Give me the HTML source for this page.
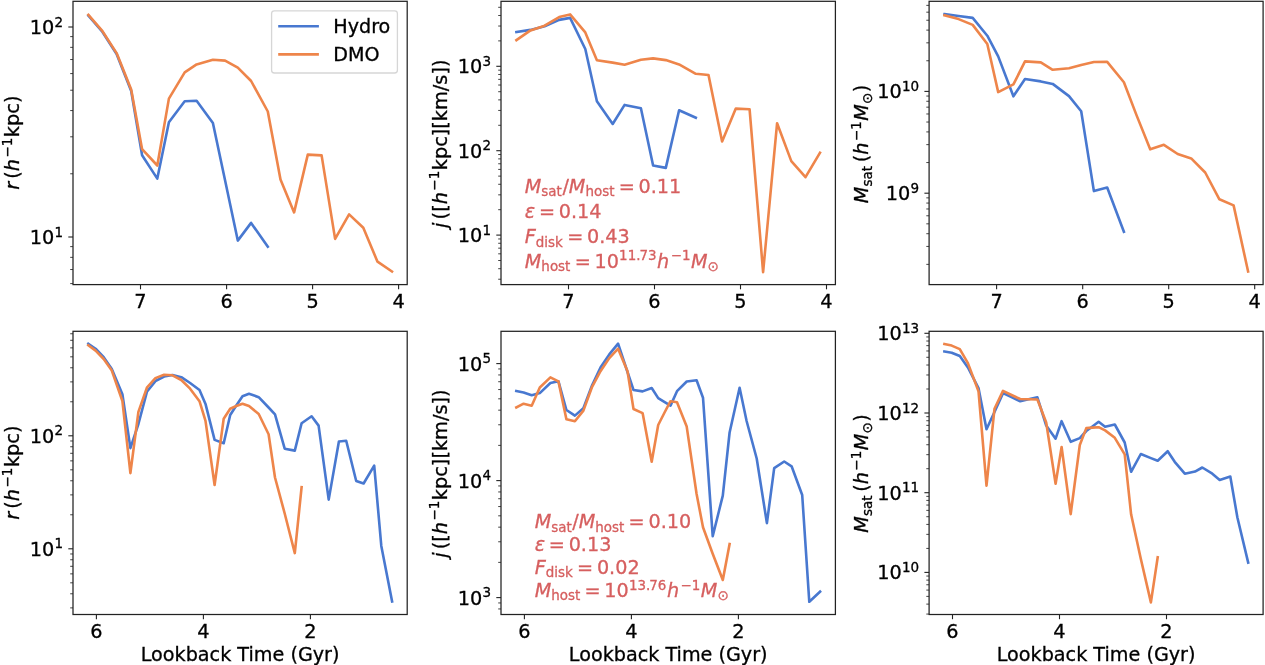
<!DOCTYPE html>
<html><head><meta charset="utf-8"><title>Satellite orbits: Hydro vs DMO</title>
<style>
html,body{margin:0;padding:0;background:#fff;}
svg{display:block}
text{font-family:"DejaVu Sans","Liberation Sans",sans-serif;stroke:#000;stroke-width:0.3px;}
text.r{stroke:#d65f5f;}
</style></head><body>
<svg width="1265" height="665" viewBox="0 0 1265 665">
<rect width="1265" height="665" fill="#fff"/>
<g>
<polyline points="88.4,15.6 102.5,32.0 116.6,54.0 131.2,91.0 142.1,155.3 157.3,178.6 168.9,122.2 184.7,101.2 196.6,100.7 212.9,123.1 225.1,180.5 237.8,240.6 251.1,222.9 267.8,246.8" fill="none" stroke="#4878d0" stroke-width="2.6" stroke-linejoin="round" stroke-linecap="square"/>
<polyline points="88.4,14.9 102.5,31.2 116.6,53.1 131.2,89.5 142.1,149.2 157.3,165.5 168.9,98.6 184.7,72.3 196.6,64.4 212.9,59.8 225.1,60.6 237.8,67.7 251.1,81.0 267.8,111.5 280.5,179.5 294.1,212.4 307.8,154.6 321.6,155.4 335.1,238.9 349.1,214.4 363.3,227.8 377.5,261.7 392.0,271.5" fill="none" stroke="#ee854a" stroke-width="2.6" stroke-linejoin="round" stroke-linecap="square"/>
<line x1="68.3" x2="73.0" y1="27.0" y2="27.0" stroke="#222" stroke-width="1.1"/>
<line x1="68.3" x2="73.0" y1="237.0" y2="237.0" stroke="#222" stroke-width="1.1"/>
<line x1="70.2" x2="73.0" y1="173.78" y2="173.78" stroke="#222" stroke-width="0.85"/>
<line x1="70.2" x2="73.0" y1="136.80" y2="136.80" stroke="#222" stroke-width="0.85"/>
<line x1="70.2" x2="73.0" y1="110.57" y2="110.57" stroke="#222" stroke-width="0.85"/>
<line x1="70.2" x2="73.0" y1="90.22" y2="90.22" stroke="#222" stroke-width="0.85"/>
<line x1="70.2" x2="73.0" y1="73.59" y2="73.59" stroke="#222" stroke-width="0.85"/>
<line x1="70.2" x2="73.0" y1="59.53" y2="59.53" stroke="#222" stroke-width="0.85"/>
<line x1="70.2" x2="73.0" y1="47.35" y2="47.35" stroke="#222" stroke-width="0.85"/>
<line x1="70.2" x2="73.0" y1="36.61" y2="36.61" stroke="#222" stroke-width="0.85"/>
<line x1="70.2" x2="73.0" y1="283.59" y2="283.59" stroke="#222" stroke-width="0.85"/>
<line x1="70.2" x2="73.0" y1="269.53" y2="269.53" stroke="#222" stroke-width="0.85"/>
<line x1="70.2" x2="73.0" y1="257.35" y2="257.35" stroke="#222" stroke-width="0.85"/>
<line x1="70.2" x2="73.0" y1="246.61" y2="246.61" stroke="#222" stroke-width="0.85"/>
<line x1="140.5" x2="140.5" y1="284.6" y2="289.3" stroke="#222" stroke-width="1.1"/>
<text x="140.5" y="307.9" text-anchor="middle" font-size="19.3">7</text>
<line x1="226.6" x2="226.6" y1="284.6" y2="289.3" stroke="#222" stroke-width="1.1"/>
<text x="226.6" y="307.9" text-anchor="middle" font-size="19.3">6</text>
<line x1="312.6" x2="312.6" y1="284.6" y2="289.3" stroke="#222" stroke-width="1.1"/>
<text x="312.6" y="307.9" text-anchor="middle" font-size="19.3">5</text>
<line x1="398.6" x2="398.6" y1="284.6" y2="289.3" stroke="#222" stroke-width="1.1"/>
<text x="398.6" y="307.9" text-anchor="middle" font-size="19.3">4</text>
<rect x="73.0" y="1.3" width="334.2" height="283.3" fill="none" stroke="#222" stroke-width="1.25"/>
</g>
<g>
<polyline points="516.4,32.0 530.5,29.9 544.6,26.2 559.2,19.9 570.1,17.9 585.3,49.0 596.9,101.3 612.7,124.0 624.6,104.9 640.9,108.2 653.1,165.5 665.8,167.9 679.1,110.3 695.8,117.7" fill="none" stroke="#4878d0" stroke-width="2.6" stroke-linejoin="round" stroke-linecap="square"/>
<polyline points="516.4,40.1 530.5,30.4 544.6,25.7 559.2,17.1 570.1,14.4 585.3,32.4 596.9,60.2 612.7,62.6 624.6,64.7 640.9,59.8 653.1,58.4 665.8,60.1 679.1,64.4 695.8,73.8 708.5,75.0 722.1,141.4 735.8,108.6 749.6,109.3 763.1,272.1 777.1,123.2 791.3,161.1 805.5,177.2 820.0,152.7" fill="none" stroke="#ee854a" stroke-width="2.6" stroke-linejoin="round" stroke-linecap="square"/>
<line x1="496.3" x2="501.0" y1="66.3" y2="66.3" stroke="#222" stroke-width="1.1"/>
<line x1="496.3" x2="501.0" y1="150.7" y2="150.7" stroke="#222" stroke-width="1.1"/>
<line x1="496.3" x2="501.0" y1="235.1" y2="235.1" stroke="#222" stroke-width="1.1"/>
<line x1="498.2" x2="501.0" y1="40.89" y2="40.89" stroke="#222" stroke-width="0.85"/>
<line x1="498.2" x2="501.0" y1="26.03" y2="26.03" stroke="#222" stroke-width="0.85"/>
<line x1="498.2" x2="501.0" y1="15.49" y2="15.49" stroke="#222" stroke-width="0.85"/>
<line x1="498.2" x2="501.0" y1="7.31" y2="7.31" stroke="#222" stroke-width="0.85"/>
<line x1="498.2" x2="501.0" y1="125.29" y2="125.29" stroke="#222" stroke-width="0.85"/>
<line x1="498.2" x2="501.0" y1="110.43" y2="110.43" stroke="#222" stroke-width="0.85"/>
<line x1="498.2" x2="501.0" y1="99.89" y2="99.89" stroke="#222" stroke-width="0.85"/>
<line x1="498.2" x2="501.0" y1="91.71" y2="91.71" stroke="#222" stroke-width="0.85"/>
<line x1="498.2" x2="501.0" y1="85.02" y2="85.02" stroke="#222" stroke-width="0.85"/>
<line x1="498.2" x2="501.0" y1="79.37" y2="79.37" stroke="#222" stroke-width="0.85"/>
<line x1="498.2" x2="501.0" y1="74.48" y2="74.48" stroke="#222" stroke-width="0.85"/>
<line x1="498.2" x2="501.0" y1="70.16" y2="70.16" stroke="#222" stroke-width="0.85"/>
<line x1="498.2" x2="501.0" y1="209.69" y2="209.69" stroke="#222" stroke-width="0.85"/>
<line x1="498.2" x2="501.0" y1="194.83" y2="194.83" stroke="#222" stroke-width="0.85"/>
<line x1="498.2" x2="501.0" y1="184.29" y2="184.29" stroke="#222" stroke-width="0.85"/>
<line x1="498.2" x2="501.0" y1="176.11" y2="176.11" stroke="#222" stroke-width="0.85"/>
<line x1="498.2" x2="501.0" y1="169.42" y2="169.42" stroke="#222" stroke-width="0.85"/>
<line x1="498.2" x2="501.0" y1="163.77" y2="163.77" stroke="#222" stroke-width="0.85"/>
<line x1="498.2" x2="501.0" y1="158.88" y2="158.88" stroke="#222" stroke-width="0.85"/>
<line x1="498.2" x2="501.0" y1="154.56" y2="154.56" stroke="#222" stroke-width="0.85"/>
<line x1="498.2" x2="501.0" y1="279.23" y2="279.23" stroke="#222" stroke-width="0.85"/>
<line x1="498.2" x2="501.0" y1="268.69" y2="268.69" stroke="#222" stroke-width="0.85"/>
<line x1="498.2" x2="501.0" y1="260.51" y2="260.51" stroke="#222" stroke-width="0.85"/>
<line x1="498.2" x2="501.0" y1="253.82" y2="253.82" stroke="#222" stroke-width="0.85"/>
<line x1="498.2" x2="501.0" y1="248.17" y2="248.17" stroke="#222" stroke-width="0.85"/>
<line x1="498.2" x2="501.0" y1="243.28" y2="243.28" stroke="#222" stroke-width="0.85"/>
<line x1="498.2" x2="501.0" y1="238.96" y2="238.96" stroke="#222" stroke-width="0.85"/>
<line x1="568.5" x2="568.5" y1="284.6" y2="289.3" stroke="#222" stroke-width="1.1"/>
<text x="568.5" y="307.9" text-anchor="middle" font-size="19.3">7</text>
<line x1="654.5" x2="654.5" y1="284.6" y2="289.3" stroke="#222" stroke-width="1.1"/>
<text x="654.5" y="307.9" text-anchor="middle" font-size="19.3">6</text>
<line x1="740.5" x2="740.5" y1="284.6" y2="289.3" stroke="#222" stroke-width="1.1"/>
<text x="740.5" y="307.9" text-anchor="middle" font-size="19.3">5</text>
<line x1="826.5" x2="826.5" y1="284.6" y2="289.3" stroke="#222" stroke-width="1.1"/>
<text x="826.5" y="307.9" text-anchor="middle" font-size="19.3">4</text>
<rect x="501.0" y="1.3" width="334.4" height="283.3" fill="none" stroke="#222" stroke-width="1.25"/>
</g>
<g>
<polyline points="944.5,14.1 958.6,16.0 972.7,17.9 987.3,35.7 998.2,56.4 1013.4,96.3 1025.0,79.0 1040.8,81.4 1052.7,83.9 1069.0,96.1 1081.2,111.3 1093.9,191.1 1107.2,187.5 1123.9,231.8" fill="none" stroke="#4878d0" stroke-width="2.6" stroke-linejoin="round" stroke-linecap="square"/>
<polyline points="944.5,15.3 958.6,19.1 972.7,24.9 987.3,44.0 998.2,92.1 1013.4,84.4 1025.0,61.4 1040.8,62.4 1052.7,69.8 1069.0,68.2 1081.2,64.9 1093.9,62.0 1107.2,61.9 1123.9,82.3 1136.6,115.4 1150.2,149.3 1163.9,144.8 1177.7,154.0 1191.2,158.4 1205.2,172.5 1219.4,199.3 1233.6,205.4 1248.1,271.5" fill="none" stroke="#ee854a" stroke-width="2.6" stroke-linejoin="round" stroke-linecap="square"/>
<line x1="924.4" x2="929.1" y1="91.4" y2="91.4" stroke="#222" stroke-width="1.1"/>
<line x1="924.4" x2="929.1" y1="193.2" y2="193.2" stroke="#222" stroke-width="1.1"/>
<line x1="926.3" x2="929.1" y1="60.76" y2="60.76" stroke="#222" stroke-width="0.85"/>
<line x1="926.3" x2="929.1" y1="42.83" y2="42.83" stroke="#222" stroke-width="0.85"/>
<line x1="926.3" x2="929.1" y1="30.11" y2="30.11" stroke="#222" stroke-width="0.85"/>
<line x1="926.3" x2="929.1" y1="20.24" y2="20.24" stroke="#222" stroke-width="0.85"/>
<line x1="926.3" x2="929.1" y1="12.18" y2="12.18" stroke="#222" stroke-width="0.85"/>
<line x1="926.3" x2="929.1" y1="5.37" y2="5.37" stroke="#222" stroke-width="0.85"/>
<line x1="926.3" x2="929.1" y1="162.56" y2="162.56" stroke="#222" stroke-width="0.85"/>
<line x1="926.3" x2="929.1" y1="144.63" y2="144.63" stroke="#222" stroke-width="0.85"/>
<line x1="926.3" x2="929.1" y1="131.91" y2="131.91" stroke="#222" stroke-width="0.85"/>
<line x1="926.3" x2="929.1" y1="122.04" y2="122.04" stroke="#222" stroke-width="0.85"/>
<line x1="926.3" x2="929.1" y1="113.98" y2="113.98" stroke="#222" stroke-width="0.85"/>
<line x1="926.3" x2="929.1" y1="107.17" y2="107.17" stroke="#222" stroke-width="0.85"/>
<line x1="926.3" x2="929.1" y1="101.27" y2="101.27" stroke="#222" stroke-width="0.85"/>
<line x1="926.3" x2="929.1" y1="96.06" y2="96.06" stroke="#222" stroke-width="0.85"/>
<line x1="926.3" x2="929.1" y1="264.36" y2="264.36" stroke="#222" stroke-width="0.85"/>
<line x1="926.3" x2="929.1" y1="246.43" y2="246.43" stroke="#222" stroke-width="0.85"/>
<line x1="926.3" x2="929.1" y1="233.71" y2="233.71" stroke="#222" stroke-width="0.85"/>
<line x1="926.3" x2="929.1" y1="223.84" y2="223.84" stroke="#222" stroke-width="0.85"/>
<line x1="926.3" x2="929.1" y1="215.78" y2="215.78" stroke="#222" stroke-width="0.85"/>
<line x1="926.3" x2="929.1" y1="208.97" y2="208.97" stroke="#222" stroke-width="0.85"/>
<line x1="926.3" x2="929.1" y1="203.07" y2="203.07" stroke="#222" stroke-width="0.85"/>
<line x1="926.3" x2="929.1" y1="197.86" y2="197.86" stroke="#222" stroke-width="0.85"/>
<line x1="996.6" x2="996.6" y1="284.6" y2="289.3" stroke="#222" stroke-width="1.1"/>
<text x="996.6" y="307.9" text-anchor="middle" font-size="19.3">7</text>
<line x1="1082.7" x2="1082.7" y1="284.6" y2="289.3" stroke="#222" stroke-width="1.1"/>
<text x="1082.7" y="307.9" text-anchor="middle" font-size="19.3">6</text>
<line x1="1168.7" x2="1168.7" y1="284.6" y2="289.3" stroke="#222" stroke-width="1.1"/>
<text x="1168.7" y="307.9" text-anchor="middle" font-size="19.3">5</text>
<line x1="1254.7" x2="1254.7" y1="284.6" y2="289.3" stroke="#222" stroke-width="1.1"/>
<text x="1254.7" y="307.9" text-anchor="middle" font-size="19.3">4</text>
<rect x="929.1" y="1.3" width="334.0" height="283.3" fill="none" stroke="#222" stroke-width="1.25"/>
</g>
<g>
<polyline points="88.3,343.7 95.6,348.7 103.7,357.2 111.8,369.0 122.4,394.3 130.4,448.1 138.4,424.0 146.9,391.8 155.4,381.2 164.1,376.5 172.5,375.0 181.3,377.2 190.1,383.0 199.5,390.0 205.5,403.9 214.6,439.9 223.7,443.2 230.2,415.0 236.3,405.5 242.5,396.2 249.0,393.7 258.7,397.2 268.6,407.5 275.0,414.3 284.7,448.7 294.8,450.6 301.6,423.2 311.6,416.3 318.6,425.6 328.7,499.6 338.9,441.5 346.2,440.7 356.2,481.0 363.6,483.5 374.2,465.6 381.3,545.9 392.1,601.4" fill="none" stroke="#4878d0" stroke-width="2.6" stroke-linejoin="round" stroke-linecap="square"/>
<polyline points="88.3,345.3 95.6,350.6 103.7,359.0 111.8,370.6 122.4,401.0 130.4,473.1 138.4,411.9 146.9,387.7 155.4,378.1 164.1,374.7 172.5,375.3 181.3,380.0 190.1,388.7 199.5,401.2 205.5,420.9 214.6,485.0 223.7,418.7 230.2,408.7 236.3,406.0 242.5,403.7 249.0,406.0 258.7,414.0 268.6,434.3 275.0,477.5 284.7,513.5 294.8,553.1 301.6,487.2" fill="none" stroke="#ee854a" stroke-width="2.6" stroke-linejoin="round" stroke-linecap="square"/>
<line x1="68.3" x2="73.0" y1="435.8" y2="435.8" stroke="#222" stroke-width="1.1"/>
<line x1="68.3" x2="73.0" y1="548.8" y2="548.8" stroke="#222" stroke-width="1.1"/>
<line x1="70.2" x2="73.0" y1="401.78" y2="401.78" stroke="#222" stroke-width="0.85"/>
<line x1="70.2" x2="73.0" y1="381.89" y2="381.89" stroke="#222" stroke-width="0.85"/>
<line x1="70.2" x2="73.0" y1="367.77" y2="367.77" stroke="#222" stroke-width="0.85"/>
<line x1="70.2" x2="73.0" y1="356.82" y2="356.82" stroke="#222" stroke-width="0.85"/>
<line x1="70.2" x2="73.0" y1="347.87" y2="347.87" stroke="#222" stroke-width="0.85"/>
<line x1="70.2" x2="73.0" y1="340.30" y2="340.30" stroke="#222" stroke-width="0.85"/>
<line x1="70.2" x2="73.0" y1="333.75" y2="333.75" stroke="#222" stroke-width="0.85"/>
<line x1="70.2" x2="73.0" y1="514.78" y2="514.78" stroke="#222" stroke-width="0.85"/>
<line x1="70.2" x2="73.0" y1="494.89" y2="494.89" stroke="#222" stroke-width="0.85"/>
<line x1="70.2" x2="73.0" y1="480.77" y2="480.77" stroke="#222" stroke-width="0.85"/>
<line x1="70.2" x2="73.0" y1="469.82" y2="469.82" stroke="#222" stroke-width="0.85"/>
<line x1="70.2" x2="73.0" y1="460.87" y2="460.87" stroke="#222" stroke-width="0.85"/>
<line x1="70.2" x2="73.0" y1="453.30" y2="453.30" stroke="#222" stroke-width="0.85"/>
<line x1="70.2" x2="73.0" y1="446.75" y2="446.75" stroke="#222" stroke-width="0.85"/>
<line x1="70.2" x2="73.0" y1="440.97" y2="440.97" stroke="#222" stroke-width="0.85"/>
<line x1="70.2" x2="73.0" y1="607.89" y2="607.89" stroke="#222" stroke-width="0.85"/>
<line x1="70.2" x2="73.0" y1="593.77" y2="593.77" stroke="#222" stroke-width="0.85"/>
<line x1="70.2" x2="73.0" y1="582.82" y2="582.82" stroke="#222" stroke-width="0.85"/>
<line x1="70.2" x2="73.0" y1="573.87" y2="573.87" stroke="#222" stroke-width="0.85"/>
<line x1="70.2" x2="73.0" y1="566.30" y2="566.30" stroke="#222" stroke-width="0.85"/>
<line x1="70.2" x2="73.0" y1="559.75" y2="559.75" stroke="#222" stroke-width="0.85"/>
<line x1="70.2" x2="73.0" y1="553.97" y2="553.97" stroke="#222" stroke-width="0.85"/>
<line x1="96.4" x2="96.4" y1="614.5" y2="619.2" stroke="#222" stroke-width="1.1"/>
<text x="96.4" y="637.8" text-anchor="middle" font-size="19.3">6</text>
<line x1="203.4" x2="203.4" y1="614.5" y2="619.2" stroke="#222" stroke-width="1.1"/>
<text x="203.4" y="637.8" text-anchor="middle" font-size="19.3">4</text>
<line x1="310.4" x2="310.4" y1="614.5" y2="619.2" stroke="#222" stroke-width="1.1"/>
<text x="310.4" y="637.8" text-anchor="middle" font-size="19.3">2</text>
<rect x="73.0" y="331.3" width="334.2" height="283.2" fill="none" stroke="#222" stroke-width="1.25"/>
</g>
<g>
<polyline points="516.3,391.0 523.6,392.5 531.7,395.2 539.8,393.1 550.4,383.0 558.4,381.2 566.4,410.0 574.9,415.6 583.4,408.1 592.1,385.3 600.5,367.5 609.3,354.4 618.1,343.7 627.5,372.0 633.5,390.0 642.6,391.4 651.7,388.0 658.2,398.1 664.3,401.8 670.5,405.6 677.0,391.2 686.7,381.5 696.6,380.2 703.0,397.7 712.7,536.2 722.8,495.6 729.6,432.5 739.6,387.7 746.6,421.0 756.7,458.5 766.9,523.1 774.2,468.2 784.2,461.5 791.6,466.3 802.2,495.0 809.3,601.8 820.1,591.7" fill="none" stroke="#4878d0" stroke-width="2.6" stroke-linejoin="round" stroke-linecap="square"/>
<polyline points="516.3,407.4 523.6,403.7 531.7,405.8 539.8,387.5 550.4,377.4 558.4,381.3 566.4,419.3 574.9,421.2 583.4,410.6 592.1,386.8 600.5,371.2 609.3,358.1 618.1,348.7 627.5,371.2 633.5,409.0 642.6,413.1 651.7,461.8 658.2,425.0 664.3,413.0 670.5,401.2 677.0,402.2 686.7,426.6 696.6,494.0 703.0,527.2 712.7,553.7 722.8,580.0 729.6,544.0" fill="none" stroke="#ee854a" stroke-width="2.6" stroke-linejoin="round" stroke-linecap="square"/>
<line x1="496.3" x2="501.0" y1="363.6" y2="363.6" stroke="#222" stroke-width="1.1"/>
<line x1="496.3" x2="501.0" y1="480.6" y2="480.6" stroke="#222" stroke-width="1.1"/>
<line x1="496.3" x2="501.0" y1="597.6" y2="597.6" stroke="#222" stroke-width="1.1"/>
<line x1="498.2" x2="501.0" y1="445.38" y2="445.38" stroke="#222" stroke-width="0.85"/>
<line x1="498.2" x2="501.0" y1="424.78" y2="424.78" stroke="#222" stroke-width="0.85"/>
<line x1="498.2" x2="501.0" y1="410.16" y2="410.16" stroke="#222" stroke-width="0.85"/>
<line x1="498.2" x2="501.0" y1="398.82" y2="398.82" stroke="#222" stroke-width="0.85"/>
<line x1="498.2" x2="501.0" y1="389.56" y2="389.56" stroke="#222" stroke-width="0.85"/>
<line x1="498.2" x2="501.0" y1="381.72" y2="381.72" stroke="#222" stroke-width="0.85"/>
<line x1="498.2" x2="501.0" y1="374.94" y2="374.94" stroke="#222" stroke-width="0.85"/>
<line x1="498.2" x2="501.0" y1="368.95" y2="368.95" stroke="#222" stroke-width="0.85"/>
<line x1="498.2" x2="501.0" y1="562.38" y2="562.38" stroke="#222" stroke-width="0.85"/>
<line x1="498.2" x2="501.0" y1="541.78" y2="541.78" stroke="#222" stroke-width="0.85"/>
<line x1="498.2" x2="501.0" y1="527.16" y2="527.16" stroke="#222" stroke-width="0.85"/>
<line x1="498.2" x2="501.0" y1="515.82" y2="515.82" stroke="#222" stroke-width="0.85"/>
<line x1="498.2" x2="501.0" y1="506.56" y2="506.56" stroke="#222" stroke-width="0.85"/>
<line x1="498.2" x2="501.0" y1="498.72" y2="498.72" stroke="#222" stroke-width="0.85"/>
<line x1="498.2" x2="501.0" y1="491.94" y2="491.94" stroke="#222" stroke-width="0.85"/>
<line x1="498.2" x2="501.0" y1="485.95" y2="485.95" stroke="#222" stroke-width="0.85"/>
<line x1="498.2" x2="501.0" y1="608.94" y2="608.94" stroke="#222" stroke-width="0.85"/>
<line x1="498.2" x2="501.0" y1="602.95" y2="602.95" stroke="#222" stroke-width="0.85"/>
<line x1="524.4" x2="524.4" y1="614.5" y2="619.2" stroke="#222" stroke-width="1.1"/>
<text x="524.4" y="637.8" text-anchor="middle" font-size="19.3">6</text>
<line x1="631.4" x2="631.4" y1="614.5" y2="619.2" stroke="#222" stroke-width="1.1"/>
<text x="631.4" y="637.8" text-anchor="middle" font-size="19.3">4</text>
<line x1="738.4" x2="738.4" y1="614.5" y2="619.2" stroke="#222" stroke-width="1.1"/>
<text x="738.4" y="637.8" text-anchor="middle" font-size="19.3">2</text>
<rect x="501.0" y="331.3" width="334.4" height="283.2" fill="none" stroke="#222" stroke-width="1.25"/>
</g>
<g>
<polyline points="944.4,351.5 951.7,352.7 959.8,356.0 967.9,367.5 978.5,388.1 986.5,429.3 994.5,412.0 1003.0,393.1 1011.5,397.2 1020.2,401.3 1028.6,399.3 1037.4,397.3 1046.2,425.5 1055.6,438.7 1061.6,421.2 1070.7,441.8 1079.8,438.1 1086.3,431.0 1092.4,426.5 1098.6,421.8 1105.1,426.8 1114.8,424.5 1124.7,442.5 1131.1,471.8 1140.8,454.0 1150.9,458.1 1157.7,460.8 1167.7,451.2 1174.7,461.8 1184.8,473.7 1195.0,471.6 1202.3,467.5 1212.3,473.7 1219.7,479.9 1230.3,476.5 1237.4,517.5 1248.2,562.6" fill="none" stroke="#4878d0" stroke-width="2.6" stroke-linejoin="round" stroke-linecap="square"/>
<polyline points="944.4,344.0 951.7,345.6 959.8,349.1 967.9,363.1 978.5,391.2 986.5,485.6 994.5,408.7 1003.0,390.9 1011.5,395.0 1020.2,399.0 1028.6,399.3 1037.4,399.5 1046.2,422.5 1055.6,483.7 1061.6,447.0 1070.7,514.1 1079.8,445.0 1086.3,428.1 1092.4,427.6 1098.6,427.2 1105.1,430.4 1114.8,437.8 1124.7,454.3 1131.1,514.3 1140.8,558.8 1150.9,602.4 1157.7,557.3" fill="none" stroke="#ee854a" stroke-width="2.6" stroke-linejoin="round" stroke-linecap="square"/>
<line x1="924.4" x2="929.1" y1="333.3" y2="333.3" stroke="#222" stroke-width="1.1"/>
<line x1="924.4" x2="929.1" y1="413.0" y2="413.0" stroke="#222" stroke-width="1.1"/>
<line x1="924.4" x2="929.1" y1="492.7" y2="492.7" stroke="#222" stroke-width="1.1"/>
<line x1="924.4" x2="929.1" y1="572.4" y2="572.4" stroke="#222" stroke-width="1.1"/>
<line x1="926.3" x2="929.1" y1="389.01" y2="389.01" stroke="#222" stroke-width="0.85"/>
<line x1="926.3" x2="929.1" y1="374.97" y2="374.97" stroke="#222" stroke-width="0.85"/>
<line x1="926.3" x2="929.1" y1="365.02" y2="365.02" stroke="#222" stroke-width="0.85"/>
<line x1="926.3" x2="929.1" y1="357.29" y2="357.29" stroke="#222" stroke-width="0.85"/>
<line x1="926.3" x2="929.1" y1="350.98" y2="350.98" stroke="#222" stroke-width="0.85"/>
<line x1="926.3" x2="929.1" y1="345.65" y2="345.65" stroke="#222" stroke-width="0.85"/>
<line x1="926.3" x2="929.1" y1="341.02" y2="341.02" stroke="#222" stroke-width="0.85"/>
<line x1="926.3" x2="929.1" y1="336.95" y2="336.95" stroke="#222" stroke-width="0.85"/>
<line x1="926.3" x2="929.1" y1="468.71" y2="468.71" stroke="#222" stroke-width="0.85"/>
<line x1="926.3" x2="929.1" y1="454.67" y2="454.67" stroke="#222" stroke-width="0.85"/>
<line x1="926.3" x2="929.1" y1="444.72" y2="444.72" stroke="#222" stroke-width="0.85"/>
<line x1="926.3" x2="929.1" y1="436.99" y2="436.99" stroke="#222" stroke-width="0.85"/>
<line x1="926.3" x2="929.1" y1="430.68" y2="430.68" stroke="#222" stroke-width="0.85"/>
<line x1="926.3" x2="929.1" y1="425.35" y2="425.35" stroke="#222" stroke-width="0.85"/>
<line x1="926.3" x2="929.1" y1="420.72" y2="420.72" stroke="#222" stroke-width="0.85"/>
<line x1="926.3" x2="929.1" y1="416.65" y2="416.65" stroke="#222" stroke-width="0.85"/>
<line x1="926.3" x2="929.1" y1="548.41" y2="548.41" stroke="#222" stroke-width="0.85"/>
<line x1="926.3" x2="929.1" y1="534.37" y2="534.37" stroke="#222" stroke-width="0.85"/>
<line x1="926.3" x2="929.1" y1="524.42" y2="524.42" stroke="#222" stroke-width="0.85"/>
<line x1="926.3" x2="929.1" y1="516.69" y2="516.69" stroke="#222" stroke-width="0.85"/>
<line x1="926.3" x2="929.1" y1="510.38" y2="510.38" stroke="#222" stroke-width="0.85"/>
<line x1="926.3" x2="929.1" y1="505.05" y2="505.05" stroke="#222" stroke-width="0.85"/>
<line x1="926.3" x2="929.1" y1="500.42" y2="500.42" stroke="#222" stroke-width="0.85"/>
<line x1="926.3" x2="929.1" y1="496.35" y2="496.35" stroke="#222" stroke-width="0.85"/>
<line x1="926.3" x2="929.1" y1="614.07" y2="614.07" stroke="#222" stroke-width="0.85"/>
<line x1="926.3" x2="929.1" y1="604.12" y2="604.12" stroke="#222" stroke-width="0.85"/>
<line x1="926.3" x2="929.1" y1="596.39" y2="596.39" stroke="#222" stroke-width="0.85"/>
<line x1="926.3" x2="929.1" y1="590.08" y2="590.08" stroke="#222" stroke-width="0.85"/>
<line x1="926.3" x2="929.1" y1="584.75" y2="584.75" stroke="#222" stroke-width="0.85"/>
<line x1="926.3" x2="929.1" y1="580.12" y2="580.12" stroke="#222" stroke-width="0.85"/>
<line x1="926.3" x2="929.1" y1="576.05" y2="576.05" stroke="#222" stroke-width="0.85"/>
<line x1="952.5" x2="952.5" y1="614.5" y2="619.2" stroke="#222" stroke-width="1.1"/>
<text x="952.5" y="637.8" text-anchor="middle" font-size="19.3">6</text>
<line x1="1059.5" x2="1059.5" y1="614.5" y2="619.2" stroke="#222" stroke-width="1.1"/>
<text x="1059.5" y="637.8" text-anchor="middle" font-size="19.3">4</text>
<line x1="1166.5" x2="1166.5" y1="614.5" y2="619.2" stroke="#222" stroke-width="1.1"/>
<text x="1166.5" y="637.8" text-anchor="middle" font-size="19.3">2</text>
<rect x="929.1" y="331.3" width="334.0" height="283.2" fill="none" stroke="#222" stroke-width="1.25"/>
</g>
<text transform="translate(63.70,34.10)"><tspan x="-33.97 -21.69" y="-0.15" font-size="19.30">10</tspan><tspan x="-9.22" y="-7.53" font-size="13.51">2</tspan></text>
<text transform="translate(63.70,244.10)"><tspan x="-33.97 -21.69" y="-0.14" font-size="19.30">10</tspan><tspan x="-9.22" y="-7.53" font-size="13.51">1</tspan></text>
<text transform="translate(491.70,73.40)"><tspan x="-33.97 -21.69" y="-0.15" font-size="19.30">10</tspan><tspan x="-9.22" y="-7.53" font-size="13.51">3</tspan></text>
<text transform="translate(491.70,157.80)"><tspan x="-33.97 -21.69" y="-0.15" font-size="19.30">10</tspan><tspan x="-9.22" y="-7.53" font-size="13.51">2</tspan></text>
<text transform="translate(491.70,242.20)"><tspan x="-33.97 -21.69" y="-0.14" font-size="19.30">10</tspan><tspan x="-9.22" y="-7.53" font-size="13.51">1</tspan></text>
<text transform="translate(919.80,98.50)"><tspan x="-42.65 -30.37" y="-0.15" font-size="19.30">10</tspan><tspan x="-17.91 -9.31" y="-7.53" font-size="13.51">10</tspan></text>
<text transform="translate(919.80,200.30)"><tspan x="-33.97 -21.69" y="-0.15" font-size="19.30">10</tspan><tspan x="-9.22" y="-7.53" font-size="13.51">9</tspan></text>
<text transform="translate(63.70,442.90)"><tspan x="-33.97 -21.69" y="-0.15" font-size="19.30">10</tspan><tspan x="-9.22" y="-7.53" font-size="13.51">2</tspan></text>
<text transform="translate(63.70,555.90)"><tspan x="-33.97 -21.69" y="-0.14" font-size="19.30">10</tspan><tspan x="-9.22" y="-7.53" font-size="13.51">1</tspan></text>
<text transform="translate(491.70,370.70)"><tspan x="-33.97 -21.69" y="-0.14" font-size="19.30">10</tspan><tspan x="-9.22" y="-7.53" font-size="13.51">5</tspan></text>
<text transform="translate(491.70,487.70)"><tspan x="-33.97 -21.69" y="-0.14" font-size="19.30">10</tspan><tspan x="-9.22" y="-7.53" font-size="13.51">4</tspan></text>
<text transform="translate(491.70,604.70)"><tspan x="-33.97 -21.69" y="-0.15" font-size="19.30">10</tspan><tspan x="-9.22" y="-7.53" font-size="13.51">3</tspan></text>
<text transform="translate(919.80,340.40)"><tspan x="-42.65 -30.37" y="-0.15" font-size="19.30">10</tspan><tspan x="-17.91 -9.31" y="-7.53" font-size="13.51">13</tspan></text>
<text transform="translate(919.80,420.10)"><tspan x="-42.65 -30.37" y="-0.15" font-size="19.30">10</tspan><tspan x="-17.91 -9.31" y="-7.53" font-size="13.51">12</tspan></text>
<text transform="translate(919.80,499.80)"><tspan x="-42.65 -30.37" y="-0.14" font-size="19.30">10</tspan><tspan x="-17.91 -9.31" y="-7.53" font-size="13.51">11</tspan></text>
<text transform="translate(919.80,579.50)"><tspan x="-42.65 -30.37" y="-0.15" font-size="19.30">10</tspan><tspan x="-17.91 -9.31" y="-7.53" font-size="13.51">10</tspan></text>
<rect x="271.6" y="10.8" width="125.8" height="62.2" rx="2.7" fill="#fff" fill-opacity="0.8" stroke="#cccccc" stroke-opacity="0.8" stroke-width="1.3"/>
<line x1="278.2" x2="318.9" y1="26.2" y2="26.2" stroke="#4878d0" stroke-width="2.6"/>
<line x1="278.2" x2="318.9" y1="54.4" y2="54.4" stroke="#ee854a" stroke-width="2.6"/>
<text x="333.3" y="33.2" font-size="19.15">Hydro</text>
<text x="333.3" y="61.1" font-size="19.15">DMO</text>
<text transform="translate(19.30,142.65) rotate(-90)"><tspan x="-47.19" y="-0.14" font-size="19.30" font-style="italic">r</tspan><tspan x="-36.12" y="-0.14" font-size="19.30">(</tspan><tspan x="-28.59" y="-0.14" font-size="19.30" font-style="italic">h</tspan><tspan x="-14.92 -3.60" y="-7.53" font-size="13.51">−1</tspan><tspan x="5.52 16.70 28.95 39.56" y="-0.14" font-size="19.30">kpc)</tspan></text>
<text transform="translate(446.90,143.65) rotate(-90)"><tspan x="-84.24" y="-0.14" font-size="19.30" font-style="italic">j</tspan><tspan x="-75.75 -68.22" y="-0.14" font-size="19.30">([</tspan><tspan x="-60.69" y="-0.14" font-size="19.30" font-style="italic">h</tspan><tspan x="-47.02 -35.70" y="-7.53" font-size="13.51">−1</tspan><tspan x="-26.58 -15.40 -3.15 7.46 14.99 22.52 33.70 52.50 59.00 69.06 76.59" y="-0.14" font-size="19.30">kpc][km/s])</tspan></text>
<text transform="translate(868.50,143.85) rotate(-90)"><tspan x="-59.35" y="-0.14" font-size="19.30" font-style="italic">M</tspan><tspan x="-42.70 -35.66 -27.38" y="3.03" font-size="13.51">sat</tspan><tspan x="-18.42" y="-0.14" font-size="19.30">(</tspan><tspan x="-10.89" y="-0.14" font-size="19.30" font-style="italic">h</tspan><tspan x="2.78 14.10" y="-7.53" font-size="13.51">−1</tspan><tspan x="23.22" y="-0.14" font-size="19.30" font-style="italic">M</tspan><tspan x="39.87" y="3.03" font-size="13.51">⊙</tspan><tspan x="51.72" y="-0.14" font-size="19.30">)</tspan></text>
<text transform="translate(19.30,472.60) rotate(-90)"><tspan x="-47.19" y="-0.14" font-size="19.30" font-style="italic">r</tspan><tspan x="-36.12" y="-0.14" font-size="19.30">(</tspan><tspan x="-28.59" y="-0.14" font-size="19.30" font-style="italic">h</tspan><tspan x="-14.92 -3.60" y="-7.53" font-size="13.51">−1</tspan><tspan x="5.52 16.70 28.95 39.56" y="-0.14" font-size="19.30">kpc)</tspan></text>
<text transform="translate(446.90,473.60) rotate(-90)"><tspan x="-84.24" y="-0.14" font-size="19.30" font-style="italic">j</tspan><tspan x="-75.75 -68.22" y="-0.14" font-size="19.30">([</tspan><tspan x="-60.69" y="-0.14" font-size="19.30" font-style="italic">h</tspan><tspan x="-47.02 -35.70" y="-7.53" font-size="13.51">−1</tspan><tspan x="-26.58 -15.40 -3.15 7.46 14.99 22.52 33.70 52.50 59.00 69.06 76.59" y="-0.14" font-size="19.30">kpc][km/s])</tspan></text>
<text transform="translate(868.50,473.40) rotate(-90)"><tspan x="-59.35" y="-0.14" font-size="19.30" font-style="italic">M</tspan><tspan x="-42.70 -35.66 -27.38" y="3.03" font-size="13.51">sat</tspan><tspan x="-18.42" y="-0.14" font-size="19.30">(</tspan><tspan x="-10.89" y="-0.14" font-size="19.30" font-style="italic">h</tspan><tspan x="2.78 14.10" y="-7.53" font-size="13.51">−1</tspan><tspan x="23.22" y="-0.14" font-size="19.30" font-style="italic">M</tspan><tspan x="39.87" y="3.03" font-size="13.51">⊙</tspan><tspan x="51.72" y="-0.14" font-size="19.30">)</tspan></text>
<text x="240.1" y="660.7" text-anchor="middle" font-size="19.2">Lookback Time (Gyr)</text>
<text x="668.2" y="660.7" text-anchor="middle" font-size="19.2">Lookback Time (Gyr)</text>
<text x="1096.1" y="660.7" text-anchor="middle" font-size="19.2">Lookback Time (Gyr)</text>
<text transform="translate(524.80,193.40)" class="r" fill="#d65f5f"><tspan x="0.00" y="-0.15" font-size="19.20" font-style="italic">M</tspan><tspan x="16.57 23.57 31.80" y="3.00" font-size="13.44">sat</tspan><tspan x="37.60" y="-0.15" font-size="19.20">/</tspan><tspan x="44.07" y="-0.15" font-size="19.20" font-style="italic">M</tspan><tspan x="60.63 69.15 77.37 84.38" y="3.00" font-size="13.44">host</tspan><tspan x="93.91 113.74 125.95 132.06 144.27" y="-0.15" font-size="19.20">=0.11</tspan></text>
<text transform="translate(524.80,218.60)" class="r" fill="#d65f5f"><tspan x="0.00" y="-0.15" font-size="19.20" font-style="italic">ε</tspan><tspan x="14.12 33.95 46.16 52.27 64.48" y="-0.15" font-size="19.20">=0.14</tspan></text>
<text transform="translate(524.80,243.60)" class="r" fill="#d65f5f"><tspan x="0.00" y="-0.15" font-size="19.20" font-style="italic">F</tspan><tspan x="11.04 19.57 23.31 30.31" y="3.00" font-size="13.44">disk</tspan><tspan x="42.36 62.19 74.40 80.51 92.72" y="-0.15" font-size="19.20">=0.43</tspan></text>
<text transform="translate(524.80,267.80)" class="r" fill="#d65f5f"><tspan x="0.00" y="-0.15" font-size="19.20" font-style="italic">M</tspan><tspan x="16.57 25.08 33.31 40.31" y="3.00" font-size="13.44">host</tspan><tspan x="49.84 69.67 81.89" y="-0.15" font-size="19.20">=10</tspan><tspan x="94.29 102.84 111.39 114.62 123.17" y="-7.49" font-size="13.44">11.73</tspan><tspan x="132.25" y="-0.15" font-size="19.20" font-style="italic">h</tspan><tspan x="145.85 157.11" y="-7.49" font-size="13.44">−1</tspan><tspan x="166.18" y="-0.15" font-size="19.20" font-style="italic">M</tspan><tspan x="182.75" y="3.00" font-size="13.44">⊙</tspan></text>
<text transform="translate(534.70,528.60)" class="r" fill="#d65f5f"><tspan x="0.00" y="-0.15" font-size="19.20" font-style="italic">M</tspan><tspan x="16.57 23.57 31.80" y="3.00" font-size="13.44">sat</tspan><tspan x="37.60" y="-0.15" font-size="19.20">/</tspan><tspan x="44.07" y="-0.15" font-size="19.20" font-style="italic">M</tspan><tspan x="60.63 69.15 77.37 84.38" y="3.00" font-size="13.44">host</tspan><tspan x="93.91 113.74 125.95 132.06 144.27" y="-0.15" font-size="19.20">=0.10</tspan></text>
<text transform="translate(534.70,551.20)" class="r" fill="#d65f5f"><tspan x="0.00" y="-0.15" font-size="19.20" font-style="italic">ε</tspan><tspan x="14.12 33.95 46.16 52.27 64.48" y="-0.15" font-size="19.20">=0.13</tspan></text>
<text transform="translate(534.70,574.30)" class="r" fill="#d65f5f"><tspan x="0.00" y="-0.15" font-size="19.20" font-style="italic">F</tspan><tspan x="11.04 19.57 23.31 30.31" y="3.00" font-size="13.44">disk</tspan><tspan x="42.36 62.19 74.40 80.51 92.72" y="-0.15" font-size="19.20">=0.02</tspan></text>
<text transform="translate(534.70,597.20)" class="r" fill="#d65f5f"><tspan x="0.00" y="-0.15" font-size="19.20" font-style="italic">M</tspan><tspan x="16.57 25.08 33.31 40.31" y="3.00" font-size="13.44">host</tspan><tspan x="49.84 69.67 81.89" y="-0.15" font-size="19.20">=10</tspan><tspan x="94.29 102.84 111.39 114.62 123.17" y="-7.49" font-size="13.44">13.76</tspan><tspan x="132.25" y="-0.15" font-size="19.20" font-style="italic">h</tspan><tspan x="145.85 157.11" y="-7.49" font-size="13.44">−1</tspan><tspan x="166.18" y="-0.15" font-size="19.20" font-style="italic">M</tspan><tspan x="182.75" y="3.00" font-size="13.44">⊙</tspan></text>
</svg>
</body></html>
